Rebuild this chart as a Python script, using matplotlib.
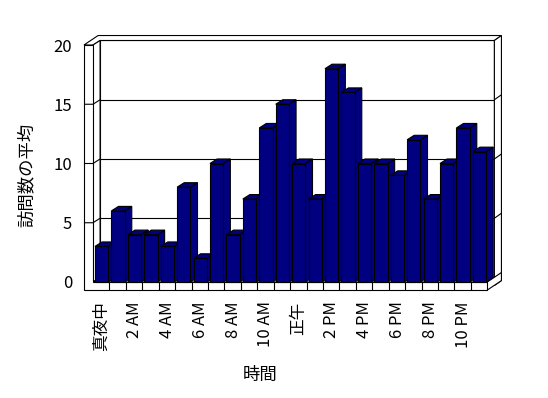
import matplotlib
matplotlib.use("Agg")
import matplotlib.pyplot as plt
from matplotlib.patches import Polygon
import numpy as np

plt.rcParams['font.family'] = ['Noto Sans CJK JP', 'DejaVu Sans']

# average visits per hour (0 = midnight ... 23 = 11 PM)
hours = list(range(24))
visits = [3, 6, 4, 4, 3, 8, 2, 10, 4, 7, 13, 15,
          10, 7, 18, 16, 10, 10, 9, 12, 7, 10, 13, 11]
tick_hours = [0, 2, 4, 6, 8, 10, 12, 14, 16, 18, 20, 22]
tick_labels = ['真夜中', '2 AM', '4 AM', '6 AM', '8 AM', '10 AM',
               '正午', '2 PM', '4 PM', '6 PM', '8 PM', '10 PM']
y_ticks = [0, 5, 10, 15, 20]
x_title = '時間'
y_title = '訪問数の平均'

BAR_COLOR = '#000080'
EDGE = 'black'
LW = 0.8

# pseudo-3D depth offsets in data units
DX, DY = 0.43, 0.38      # depth of the plot box
TX, TY = 0.43, 0.42      # thickness of the back wall
WALL_W = 0.55            # thickness of the left wall
FLOOR_H = 0.68           # thickness of the floor
BAR_L, BAR_R = 0.12, 0.93
YMAX = 20
N = len(hours)

fig = plt.figure(figsize=(5.48, 3.98), dpi=100)
ax = fig.add_axes([93 / 548, 116 / 398, 394.3 / 548, 237 / 398])
ax.set_xlim(0, N)
ax.set_ylim(0, YMAX)
for s in ax.spines.values():
    s.set_visible(False)
ax.patch.set_visible(False)


def poly(pts, fc='white', z=1):
    ax.add_patch(Polygon(pts, closed=True, facecolor=fc, edgecolor=EDGE,
                         linewidth=LW, zorder=z, clip_on=False,
                         joinstyle='miter'))


def line(xs, ys, z=2):
    ax.plot(xs, ys, color=EDGE, linewidth=LW, zorder=z, clip_on=False,
            solid_capstyle='butt')


# back wall, inner face with gridlines
poly([(DX, DY), (N + DX, DY), (N + DX, YMAX + DY), (DX, YMAX + DY)], z=1)
for g in y_ticks[1:-1]:
    line([DX, N + DX], [g + DY, g + DY], z=1.5)

# back wall thickness: top and right faces
poly([(-WALL_W, YMAX), (0, YMAX), (DX, YMAX + DY), (N + DX, YMAX + DY),
      (N + DX + TX, YMAX + DY + TY), (-WALL_W + DX + TX, YMAX + DY + TY)], z=1)
poly([(N + DX, -FLOOR_H + DY), (N + DX, YMAX + DY),
      (N + DX + TX, YMAX + DY + TY), (N + DX + TX, -FLOOR_H + DY + TY)], z=1)
for g in y_ticks[1:-1]:
    line([N + DX, N + DX + TX], [g + DY, g + DY + TY], z=1.5)

# left wall inner face
poly([(0, 0), (DX, DY), (DX, YMAX + DY), (0, YMAX)], z=2)

# floor top face and right side
poly([(0, 0), (N, 0), (N + DX, DY), (DX, DY)], z=2)
poly([(N, -FLOOR_H), (N, 0), (N + DX + TX, DY + TY),
      (N + DX + TX, -FLOOR_H + DY + TY)], z=2)

# left wall front + floor front slab (L-shaped)
poly([(-WALL_W, -FLOOR_H), (N, -FLOOR_H), (N, 0), (0, 0), (0, YMAX),
      (-WALL_W, YMAX)], z=3)
for g in y_ticks[1:-1]:
    line([-WALL_W, 0, DX], [g, g, g + DY], z=3.5)
for i in range(1, N):
    line([i, i], [-FLOOR_H, 0], z=3.5)

# bars, drawn left to right so each front face covers the previous side
for i, v in zip(hours, visits):
    x0, x1 = i + BAR_L, i + BAR_R
    z = 4 + i * 0.01
    poly([(x1, 0), (x1 + DX, DY), (x1 + DX, v + DY), (x1, v)], fc=BAR_COLOR, z=z)
    poly([(x0, v), (x1, v), (x1 + DX, v + DY), (x0 + DX, v + DY)], fc=BAR_COLOR, z=z)
    poly([(x0, 0), (x1, 0), (x1, v), (x0, v)], fc=BAR_COLOR, z=z)

# axis labels
ax.set_yticks(y_ticks)
ax.set_yticklabels([str(t) for t in y_ticks], fontsize=12)
ax.set_xticks([h + (BAR_L + BAR_R) / 2 for h in tick_hours])
ax.set_xticklabels(tick_labels, rotation=90, fontsize=12)
ax.tick_params(axis='y', length=0, pad=15)
ax.tick_params(axis='x', length=0, pad=14)
ax.set_xlabel(x_title, fontsize=12.5)
ax.set_ylabel(y_title, fontsize=12.5)
ax.xaxis.set_label_coords(0.4235, -0.355)
ax.yaxis.set_label_coords(-0.145, 0.45)

fig.savefig('out.png', dpi=100, facecolor='white')
